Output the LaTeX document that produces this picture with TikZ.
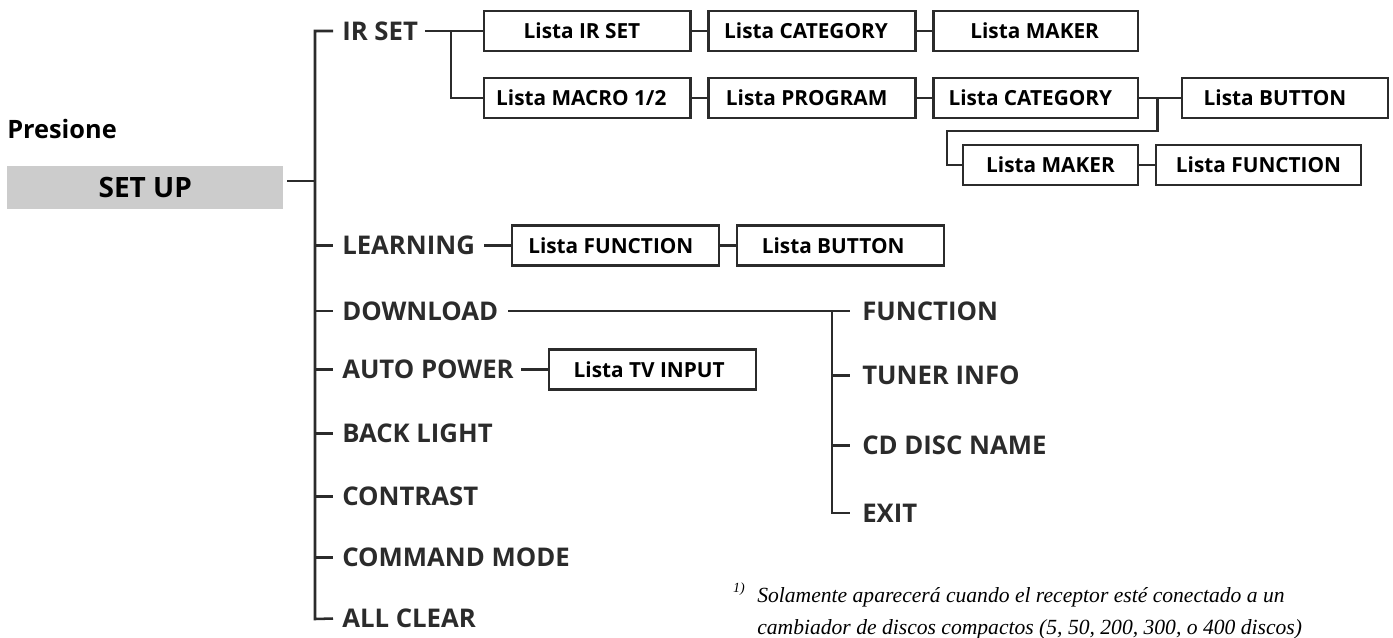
\documentclass[tikz,border=0pt]{standalone}
\usepackage{fontspec}
\setmainfont{Open Sans}
\newfontfamily\notefont{Liberation Serif}
\usetikzlibrary{positioning}

\definecolor{ink}{HTML}{2B2B2B}
\definecolor{keygray}{HTML}{CCCCCC}

\begin{document}
\begin{tikzpicture}[x=0.75pt, y=-0.75pt, node distance=13.5pt and 13.5pt]
    \tikzstyle{lista} = [rectangle, draw=ink, line width=1.8pt, inner sep=0pt, outer sep=0pt, minimum height=30pt, font=\fontsize{15.6}{18}\selectfont\bfseries]
    \tikzstyle{menu} = [anchor=west, inner sep=0pt, text=ink, font=\fontsize{19.3}{21}\selectfont\bfseries]
    \tikzstyle{line} = [draw=ink, line width=1.7pt]
    \tikzstyle{trunk} = [draw=ink, line width=1.9pt]

    \useasboundingbox (0,0) rectangle (1393,637);

    \node [anchor=west, inner sep=0pt, font=\fontsize{19}{21}\selectfont\bfseries] (presione) at (7,129) {Presione};
    \node [anchor=north west, inner sep=0pt, fill=keygray, minimum width=207pt, minimum height=32.25pt, font=\fontsize{21}{23}\selectfont\bfseries] (setup) at (7,166) {SET UP};

    % first column
    \node [menu] (irset) at (342,31) {IR SET};
    \node [menu] (learning) at (342,245.5) {LEARNING};
    \node [menu] (download) at (342,311) {DOWNLOAD};
    \node [menu] (autopower) at (342,369.5) {AUTO POWER};
    \node [menu] (backlight) at (342,433.5) {BACK LIGHT};
    \node [menu] (contrast) at (342,496.5) {CONTRAST};
    \node [menu] (command) at (342,557.5) {COMMAND MODE};
    \node [menu] (allclear) at (342,618.5) {ALL CLEAR};

    % second column
    \node [menu] (function) at (862,311) {FUNCTION};
    \node [menu] (tuner) at (862,375.5) {TUNER INFO};
    \node [menu] (cddisc) at (862,445.5) {CD DISC NAME};
    \node [menu] (exit) at (862,513) {EXIT};

    % lists
    \node [lista, minimum width=155pt, anchor=west] (listairset) at (484,31) {Lista IR SET\kern 8pt};
    \node [lista, minimum width=155pt, right=of listairset] (listacat) {Lista CATEGORY\kern 9pt};
    \node [lista, minimum width=153.5pt, right=of listacat] (listamaker) {Lista MAKER\kern 1.5pt};
    \node [lista, minimum width=155pt, anchor=west] (listamacro) at (484,98) {Lista MACRO 1/2\kern 9pt};
    \node [lista, minimum width=155pt, right=of listamacro] (listaprog) {Lista PROGRAM\kern 8pt};
    \node [lista, minimum width=153.5pt, right=of listaprog] (listacatb) {Lista CATEGORY\kern 8pt};
    \node [lista, minimum width=154.5pt, anchor=west] (listabutton) at (1182,98) {Lista BUTTON\kern 15pt};
    \node [lista, minimum width=131.25pt, anchor=west] (listamakerb) at (963,165) {Lista MAKER};
    \node [lista, minimum width=153.75pt, right=of listamakerb] (listafunc) {Lista FUNCTION};
    \node [lista, minimum width=155.25pt, anchor=west] (listafuncb) at (512,245.5) {Lista FUNCTION\kern 7pt};
    \node [lista, minimum width=155.25pt, right=of listafuncb] (listabuttonb) {Lista BUTTON\kern 11pt};
    \node [lista, minimum width=155.25pt, anchor=west] (listatv) at (549,369.5) {Lista TV INPUT\kern 5pt};

    % note
    \node [anchor=north west, inner sep=0pt, align=left, font=\notefont\fontsize{16.2}{24}\selectfont\itshape] (note) at (757,587) {Solamente aparecerá cuando el receptor esté conectado a un\\cambiador de discos compactos (5, 50, 200, 300, o 400 discos)};
    \node [anchor=north east, inner sep=0pt, font=\notefont\fontsize{10.5}{12}\selectfont\itshape] (noteref) at (745,583) {1)};

    % trunk
    \coordinate (trunktop) at (315,31);
    \coordinate (trunkend) at (315,619);
    \coordinate (setupout) at (287,181);
    \path [trunk] (irset.west -| 333,0) -- (trunktop) -- (trunkend) -- (allclear.west -| 333,0);
    \path [line] (setupout) -- (setupout -| trunktop);
    \foreach \branch in {learning, download, autopower, backlight, contrast, command}
        \path [line] (\branch.west -| trunktop) -- ([xshift=-6.75pt]\branch.west);

    % first row
    \coordinate (forkir) at (451,31);
    \path [line] ([xshift=5pt]irset.east) -- (listairset);
    \path [line] (forkir) |- (listamacro);
    \path [line] (listairset) -- (listacat);
    \path [line] (listacat) -- (listamaker);
    \path [line] (listamacro) -- (listaprog);
    \path [line] (listaprog) -- (listacatb);

    % branch under the category
    \coordinate (forkcat) at (1157.5,98);
    \coordinate (bendcat) at (1157.5,131);
    \coordinate (bendmaker) at (947,131);
    \path [line] (listacatb) -- (listabutton);
    \path [line] (forkcat) -- (bendcat) -- (bendmaker) |- (listamakerb);
    \path [line] (listamakerb) -- (listafunc);

    \path [line] (listafuncb.west -| 484,0) -- (listafuncb);
    \path [line] (listafuncb) -- (listabuttonb);
    \path [line] (listatv.west -| 521,0) -- (listatv);

    % download branch
    \coordinate (forkdl) at (832,311);
    \path [line] (download.east -| 508,0) -- ([xshift=-9pt]function.west);
    \path [line] (forkdl) -- (forkdl |- exit) -- ([xshift=-9pt]exit.west);
    \path [line] (tuner.west -| forkdl) -- ([xshift=-9pt]tuner.west);
    \path [line] (cddisc.west -| forkdl) -- ([xshift=-9pt]cddisc.west);
\end{tikzpicture}
\end{document}
